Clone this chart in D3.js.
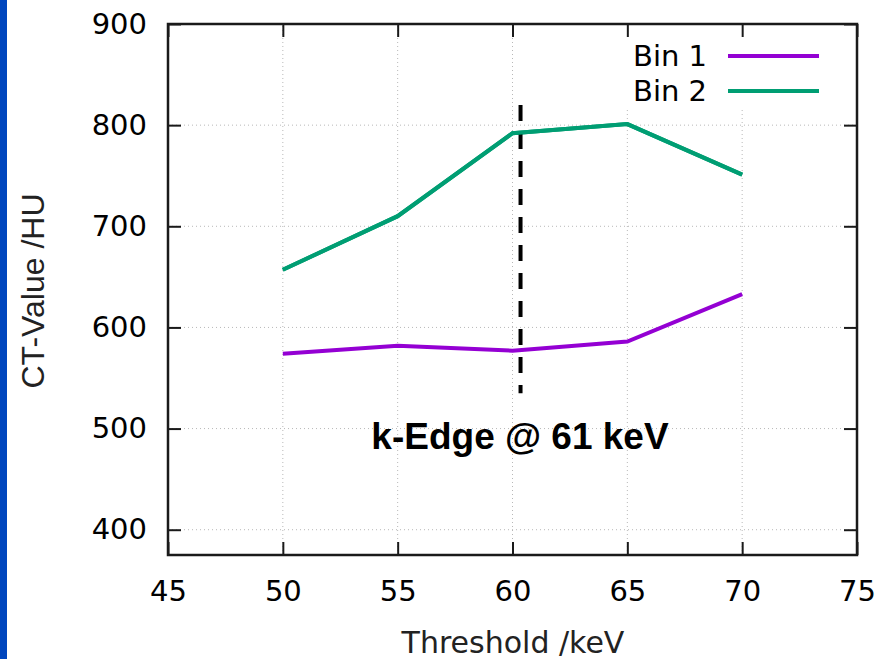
<!DOCTYPE html>
<html>
<head>
<meta charset="UTF-8">
<title></title>
<script src="https://cdn.jsdelivr.net/npm/d3@7/dist/d3.min.js"></script>
<style>
  body { margin: 0; background: #fff; }
  svg { display: block; }
</style>
</head>
<body>
<script>
// thresholds (keV) and mean CT values per bin
var thresholds = [50, 55, 60, 65, 70];
var bin1 = [574, 582, 577, 586, 633];
var bin2 = [657, 710, 792, 801, 751];
var xTicks = [45, 50, 55, 60, 65, 70, 75];
var yTicks = [400, 500, 600, 700, 800, 900];
var kEdge = 60.35;          // where the dashed marker is drawn
var kEdgeRange = [535, 820];
var kEdgeLabel = "k-Edge @ 61 keV";

var width = 895, height = 659;
var margin = {top: 24, right: 38, bottom: 104, left: 168};

var svg = d3.select("body").append("svg")
  .attr("width", width)
  .attr("height", height);

// blue strip on the left edge
svg.append("rect")
  .attr("x", 0).attr("y", 0)
  .attr("width", 7).attr("height", height)
  .attr("fill", "#0046be");

var x = d3.scaleLinear().domain([45, 75]).range([margin.left, width - margin.right]);
var y = d3.scaleLinear().domain([375, 900]).range([height - margin.bottom, margin.top]);

var x0 = x.range()[0], x1 = x.range()[1];
var y0 = y.range()[0], y1 = y.range()[1];

// grid (dotted)
var grid = svg.append("g")
  .attr("stroke", "#b8b8b8")
  .attr("stroke-width", 1)
  .attr("stroke-dasharray", "1,3");
grid.selectAll("line.gx")
  .data(xTicks.slice(1, -1))
  .enter().append("line")
  .attr("x1", d => x(d)).attr("x2", d => x(d))
  .attr("y1", y0).attr("y2", y1);
grid.selectAll("line.gy")
  .data(yTicks.slice(0, -1))
  .enter().append("line")
  .attr("y1", d => y(d)).attr("y2", d => y(d))
  .attr("x1", x0).attr("x2", x1);

// legend background hides the grid behind it
svg.append("rect")
  .attr("x", 620).attr("y", y1 + 2)
  .attr("width", 215).attr("height", 82)
  .attr("fill", "#fff");

// axes: ticks inside, mirrored
var tickLen = 13;
var font = "'DejaVu Sans', sans-serif";

var bottomAxis = d3.axisBottom(x).tickValues(xTicks).tickSize(-tickLen).tickPadding(tickLen + 12);
var topAxis = d3.axisTop(x).tickValues(xTicks).tickSize(-tickLen).tickFormat("");
var leftAxis = d3.axisLeft(y).tickValues(yTicks).tickSize(-tickLen).tickPadding(tickLen + 8);
var rightAxis = d3.axisRight(y).tickValues(yTicks).tickSize(-tickLen).tickFormat("");

function styleAxis(g) {
  g.select(".domain").remove();
  g.selectAll(".tick line").attr("stroke", "#1a1a1a").attr("stroke-width", 2);
  g.selectAll(".tick text").attr("fill", "#000").attr("font-family", font).attr("font-size", "29px");
}

svg.append("g").attr("transform", "translate(0," + y0 + ")").call(bottomAxis).call(styleAxis);
svg.append("g").attr("transform", "translate(0," + y1 + ")").call(topAxis).call(styleAxis);
svg.append("g").attr("transform", "translate(" + x0 + ",0)").call(leftAxis).call(styleAxis);
svg.append("g").attr("transform", "translate(" + x1 + ",0)").call(rightAxis).call(styleAxis);

// frame
svg.append("rect")
  .attr("x", x0).attr("y", y1)
  .attr("width", x1 - x0).attr("height", y0 - y1)
  .attr("fill", "none")
  .attr("stroke", "#1a1a1a")
  .attr("stroke-width", 2.5);

// series
var line = d3.line()
  .x((d, i) => x(thresholds[i]))
  .y(d => y(d));

var series = [
  {name: "Bin 1", values: bin1, color: "#9400d3"},
  {name: "Bin 2", values: bin2, color: "#009e73"}
];

svg.selectAll("path.series")
  .data(series)
  .enter().append("path")
  .attr("class", "series")
  .attr("fill", "none")
  .attr("stroke", d => d.color)
  .attr("stroke-width", 4)
  .attr("stroke-linejoin", "miter")
  .attr("d", d => line(d.values));

// k-edge dashed marker
svg.append("line")
  .attr("x1", x(kEdge)).attr("x2", x(kEdge))
  .attr("y1", y(kEdgeRange[1])).attr("y2", y(kEdgeRange[0]))
  .attr("stroke", "#000")
  .attr("stroke-width", 4)
  .attr("stroke-dasharray", "16,12");

// draw green again so it sits on top of the marker
svg.append("path")
  .attr("fill", "none")
  .attr("stroke", "#009e73")
  .attr("stroke-width", 4)
  .attr("d", line(bin2));

svg.append("text")
  .attr("x", 520).attr("y", 449)
  .attr("text-anchor", "middle")
  .attr("font-family", "'Liberation Sans', Arial, sans-serif")
  .attr("font-weight", "bold")
  .attr("font-size", "37px")
  .attr("fill", "#000")
  .text(kEdgeLabel);

// legend
var legend = svg.selectAll("g.legend")
  .data(series)
  .enter().append("g")
  .attr("class", "legend")
  .attr("transform", (d, i) => "translate(0," + (56 + i * 35) + ")");
legend.append("text")
  .attr("x", 707).attr("y", 0)
  .attr("dy", "0.35em")
  .attr("text-anchor", "end")
  .attr("font-family", font)
  .attr("font-size", "29px")
  .attr("fill", "#000")
  .text(d => d.name);
legend.append("line")
  .attr("x1", 728).attr("x2", 819)
  .attr("y1", 0).attr("y2", 0)
  .attr("stroke", d => d.color)
  .attr("stroke-width", 4);

// axis titles
svg.append("text")
  .attr("x", 513).attr("y", 653)
  .attr("text-anchor", "middle")
  .attr("font-family", font)
  .attr("font-size", "30px")
  .attr("fill", "#222")
  .text("Threshold /keV");

svg.append("text")
  .attr("transform", "translate(44,291) rotate(-90)")
  .attr("text-anchor", "middle")
  .attr("font-family", "'Liberation Sans', Arial, sans-serif")
  .attr("font-size", "32px")
  .attr("fill", "#222")
  .text("CT-Value /HU");
</script>
</body>
</html>
